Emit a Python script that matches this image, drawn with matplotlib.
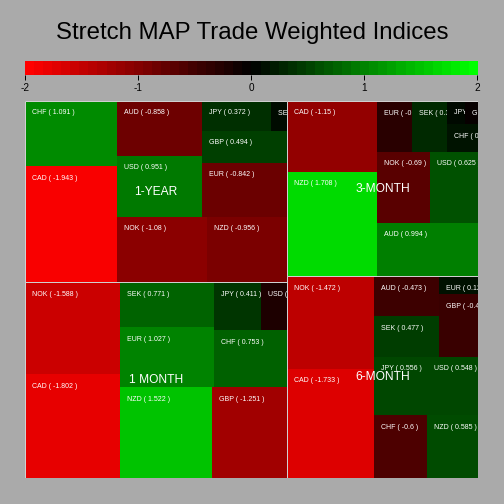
import numpy as np
import matplotlib
matplotlib.use('Agg')
import matplotlib.pyplot as plt
from matplotlib.patches import Rectangle
from matplotlib.colors import LinearSegmentedColormap, Normalize

plt.rcParams['font.family'] = ['Liberation Sans', 'DejaVu Sans']

currencies = ['AUD', 'CAD', 'CHF', 'EUR', 'GBP', 'JPY', 'NOK', 'NZD', 'SEK', 'USD']
one_year = [-0.858, -1.943, 1.091, -0.842, 0.494, 0.372, -1.08, -0.956, 0.086, 0.951]
three_month = [0.994, -1.15, 0.156, -0.327, -0.056, 0.078, -0.69, 1.708, 0.317, 0.625]
one_month = [0.0, -1.802, 0.753, 1.027, -1.251, 0.411, -1.588, 1.522, 0.771, -0.227]
six_month = [-0.473, -1.733, -0.6, 0.126, -0.442, 0.556, -1.472, 0.585, 0.477, 0.548]

horizons = ['1-YEAR', '3-MONTH', '1 MONTH', '6-MONTH']
values = [one_year, three_month, one_month, six_month]
cbar_ticks = [-2, -1, 0, 1, 2]

cmap = LinearSegmentedColormap.from_list('rg', ['#ff0000', '#000000', '#00ff00'])
norm = Normalize(-2, 2)


def aspect(a, b):
    return max(a / b, b / a)


def squarify(areas, x, y, w, h):
    # squarified layout, first item at bottom-left; areas sum to w*h
    rects = []
    i = 0
    n = len(areas)
    while i < n:
        vertical = w >= h
        side = h if vertical else w
        row = [areas[i]]
        j = i + 1
        while j < n:
            t_old = sum(row) / side
            old = aspect(t_old, row[-1] / t_old)
            t_new = (sum(row) + areas[j]) / side
            new = aspect(t_new, areas[j] / t_new)
            if new <= old:
                row.append(areas[j])
                j += 1
            else:
                break
        t = sum(row) / side
        pos = 0
        for a in row:
            l = a / t
            if vertical:
                rects.append((x, y + pos, t, l))
            else:
                rects.append((x + pos, y, l, t))
            pos += l
        if vertical:
            x += t
            w -= t
        else:
            y += t
            h -= t
        i = j
    return rects


fig = plt.figure(figsize=(7, 7), dpi=72, facecolor='#aaaaaa')
fig.text(0.5, 0.934, 'Stretch MAP Trade Weighted Indices', ha='center', va='center',
         fontsize=24)

# colour scale
cax = fig.add_axes([25 / 504, 429 / 504, 452 / 504, 14 / 504])
grad = np.linspace(-2, 2, 50).reshape(1, -1)
cax.imshow(grad, cmap=cmap, norm=norm, aspect='auto', extent=(-2, 2, 0, 1))
cax.set_xticks(cbar_ticks)
cax.set_xticklabels([str(t) for t in cbar_ticks], fontsize=10)
cax.set_yticks([])
cax.tick_params(axis='x', length=5, width=1, pad=3)
for s in cax.spines.values():
    s.set_visible(False)

# treemap
ax = fig.add_axes([25 / 504, 26 / 504, 453 / 504, 377 / 504])
ax.set_xlim(0, 1)
ax.set_ylim(0, 1)
ax.axis('off')

totals = [sum(abs(v) for v in vals) for vals in values]
gorder = sorted(range(len(horizons)), key=lambda k: -totals[k])
gareas = [totals[k] / sum(totals) for k in gorder]
grects = squarify(gareas, 0.0, 0.0, 1.0, 1.0)

for k, (gx, gy, gw, gh) in zip(gorder, grects):
    vals = values[k]
    idx = [c for c in range(len(currencies)) if vals[c] != 0]
    idx = sorted(idx, key=lambda c: -abs(vals[c]))
    tot = sum(abs(vals[c]) for c in idx)
    cells = squarify([abs(vals[c]) / tot for c in idx], 0.0, 0.0, 1.0, 1.0)
    for c, (u, v, cw, ch) in zip(idx, cells):
        rx, ry, rw, rh = gx + u * gw, gy + v * gh, cw * gw, ch * gh
        rect = Rectangle((rx, ry), rw, rh, facecolor=cmap(norm(vals[c])),
                         edgecolor='none')
        ax.add_patch(rect)
        txt = ax.annotate(f'{currencies[c]} ( {vals[c]:g} )', xy=(rx, ry + rh),
                          xytext=(7, -12), textcoords='offset points',
                          fontsize=7, color='white', ha='left', va='center')
        txt.set_clip_path(rect)
        txt.set_clip_on(True)
    ax.add_patch(Rectangle((gx, gy), gw, gh, fill=False, edgecolor='#d0d0d0', lw=1))
    ax.text(gx + gw / 2, gy + gh / 2, horizons[k], ha='center', va='center',
            fontsize=12, color='white')

plt.savefig('out.png', dpi=72, facecolor=fig.get_facecolor())
